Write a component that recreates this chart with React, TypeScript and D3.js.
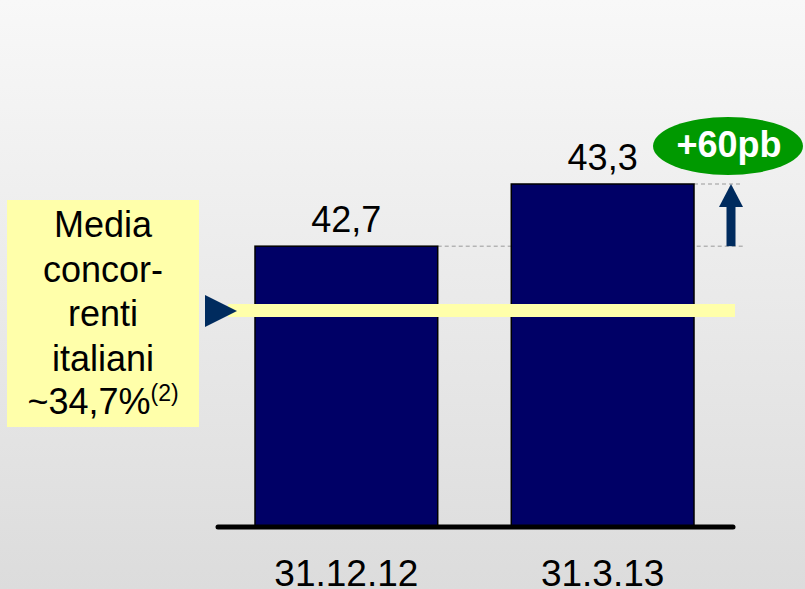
import React from "react";
import * as d3 from "d3";

const categories = ["31.12.12", "31.3.13"];
const values = [42.7, 43.3];
const valueLabels = ["42,7", "43,3"];
const boxLines = ["Media", "concor-", "renti", "italiani"];
const boxLast = "~34,7%";
const boxSup = "(2)";
const deltaLabel = "+60pb";

const W = 805;
const H = 589;
const FONT = "'Liberation Sans', Arial, Helvetica, sans-serif";

export default function App() {
  const x = d3.scaleBand<string>().domain(categories).range([255, 694]).paddingInner(0.287).paddingOuter(0);
  const y = d3.scaleLinear().domain([40, 43.3]).range([526, 184]);
  const baseY = y(40);
  const y1 = y(values[0]);
  const y2 = y(values[1]);
  const arrowX = 731;
  const lineY = 311;

  return (
    <svg width={W} height={H} style={{ position: "absolute", left: 0, top: 0, display: "block" }}>
      <defs>
        <linearGradient id="bg" x1="0" y1="0" x2="0" y2="1">
          <stop offset="0" stopColor="#f8f8f8" />
          <stop offset="1" stopColor="#dcdcdc" />
        </linearGradient>
      </defs>
      <rect x={0} y={0} width={W} height={H} fill="url(#bg)" />

      {/* dashed reference lines */}
      <line x1={x(categories[0])! + x.bandwidth()} x2={743} y1={y1} y2={y1} stroke="#999" strokeWidth={1} strokeDasharray="4,3" />
      <line x1={x(categories[1])! + x.bandwidth()} x2={743} y1={y2} y2={y2} stroke="#999" strokeWidth={1} strokeDasharray="4,3" />

      {categories.map((c, i) => (
        <g key={c}>
          <rect x={x(c)!} y={y(values[i])} width={x.bandwidth()} height={baseY - y(values[i])} fill="#000066" stroke="#000" strokeWidth={1.5} />
          <text x={x(c)! + x.bandwidth() / 2} y={y(values[i]) - 14} textAnchor="middle" fontFamily={FONT} fontSize={36} fill="#000">{valueLabels[i]}</text>
          <text x={x(c)! + x.bandwidth() / 2} y={586} textAnchor="middle" fontFamily={FONT} fontSize={37} fill="#000">{c}</text>
        </g>
      ))}

      {/* baseline */}
      <line x1={218} x2={733} y1={baseY + 1} y2={baseY + 1} stroke="#000" strokeWidth={5} strokeLinecap="round" />

      {/* average line */}
      <rect x={228} y={lineY - 7} width={507} height={13} fill="#ffffaa" />
      <path d={`M205,${lineY - 16} L237,${lineY} L205,${lineY + 16} Z`} fill="#002b5e" />

      {/* yellow box */}
      <rect x={7} y={200} width={192} height={227} fill="#ffffaa" />
      {boxLines.map((t, i) => (
        <text key={t} x={103} y={237 + i * 44.5} textAnchor="middle" fontFamily={FONT} fontSize={36} fill="#000">{t}</text>
      ))}
      <text x={103} y={414} textAnchor="middle" fontFamily={FONT} fontSize={36} fill="#000">
        {boxLast}
        <tspan fontSize={23} dy={-13}>{boxSup}</tspan>
      </text>

      {/* arrow */}
      <rect x={arrowX - 4.5} y={205} width={9} height={y1 - 205} fill="#002b5e" />
      <path d={`M${arrowX},${y2} L${arrowX + 12},${207} L${arrowX - 12},${207} Z`} fill="#002b5e" />

      {/* green ellipse */}
      <ellipse cx={728} cy={146} rx={75} ry={29} fill="#009900" />
      <text x={729} y={157} textAnchor="middle" fontFamily={FONT} fontSize={36} fontWeight="bold" fill="#fff">{deltaLabel}</text>
    </svg>
  );
}
